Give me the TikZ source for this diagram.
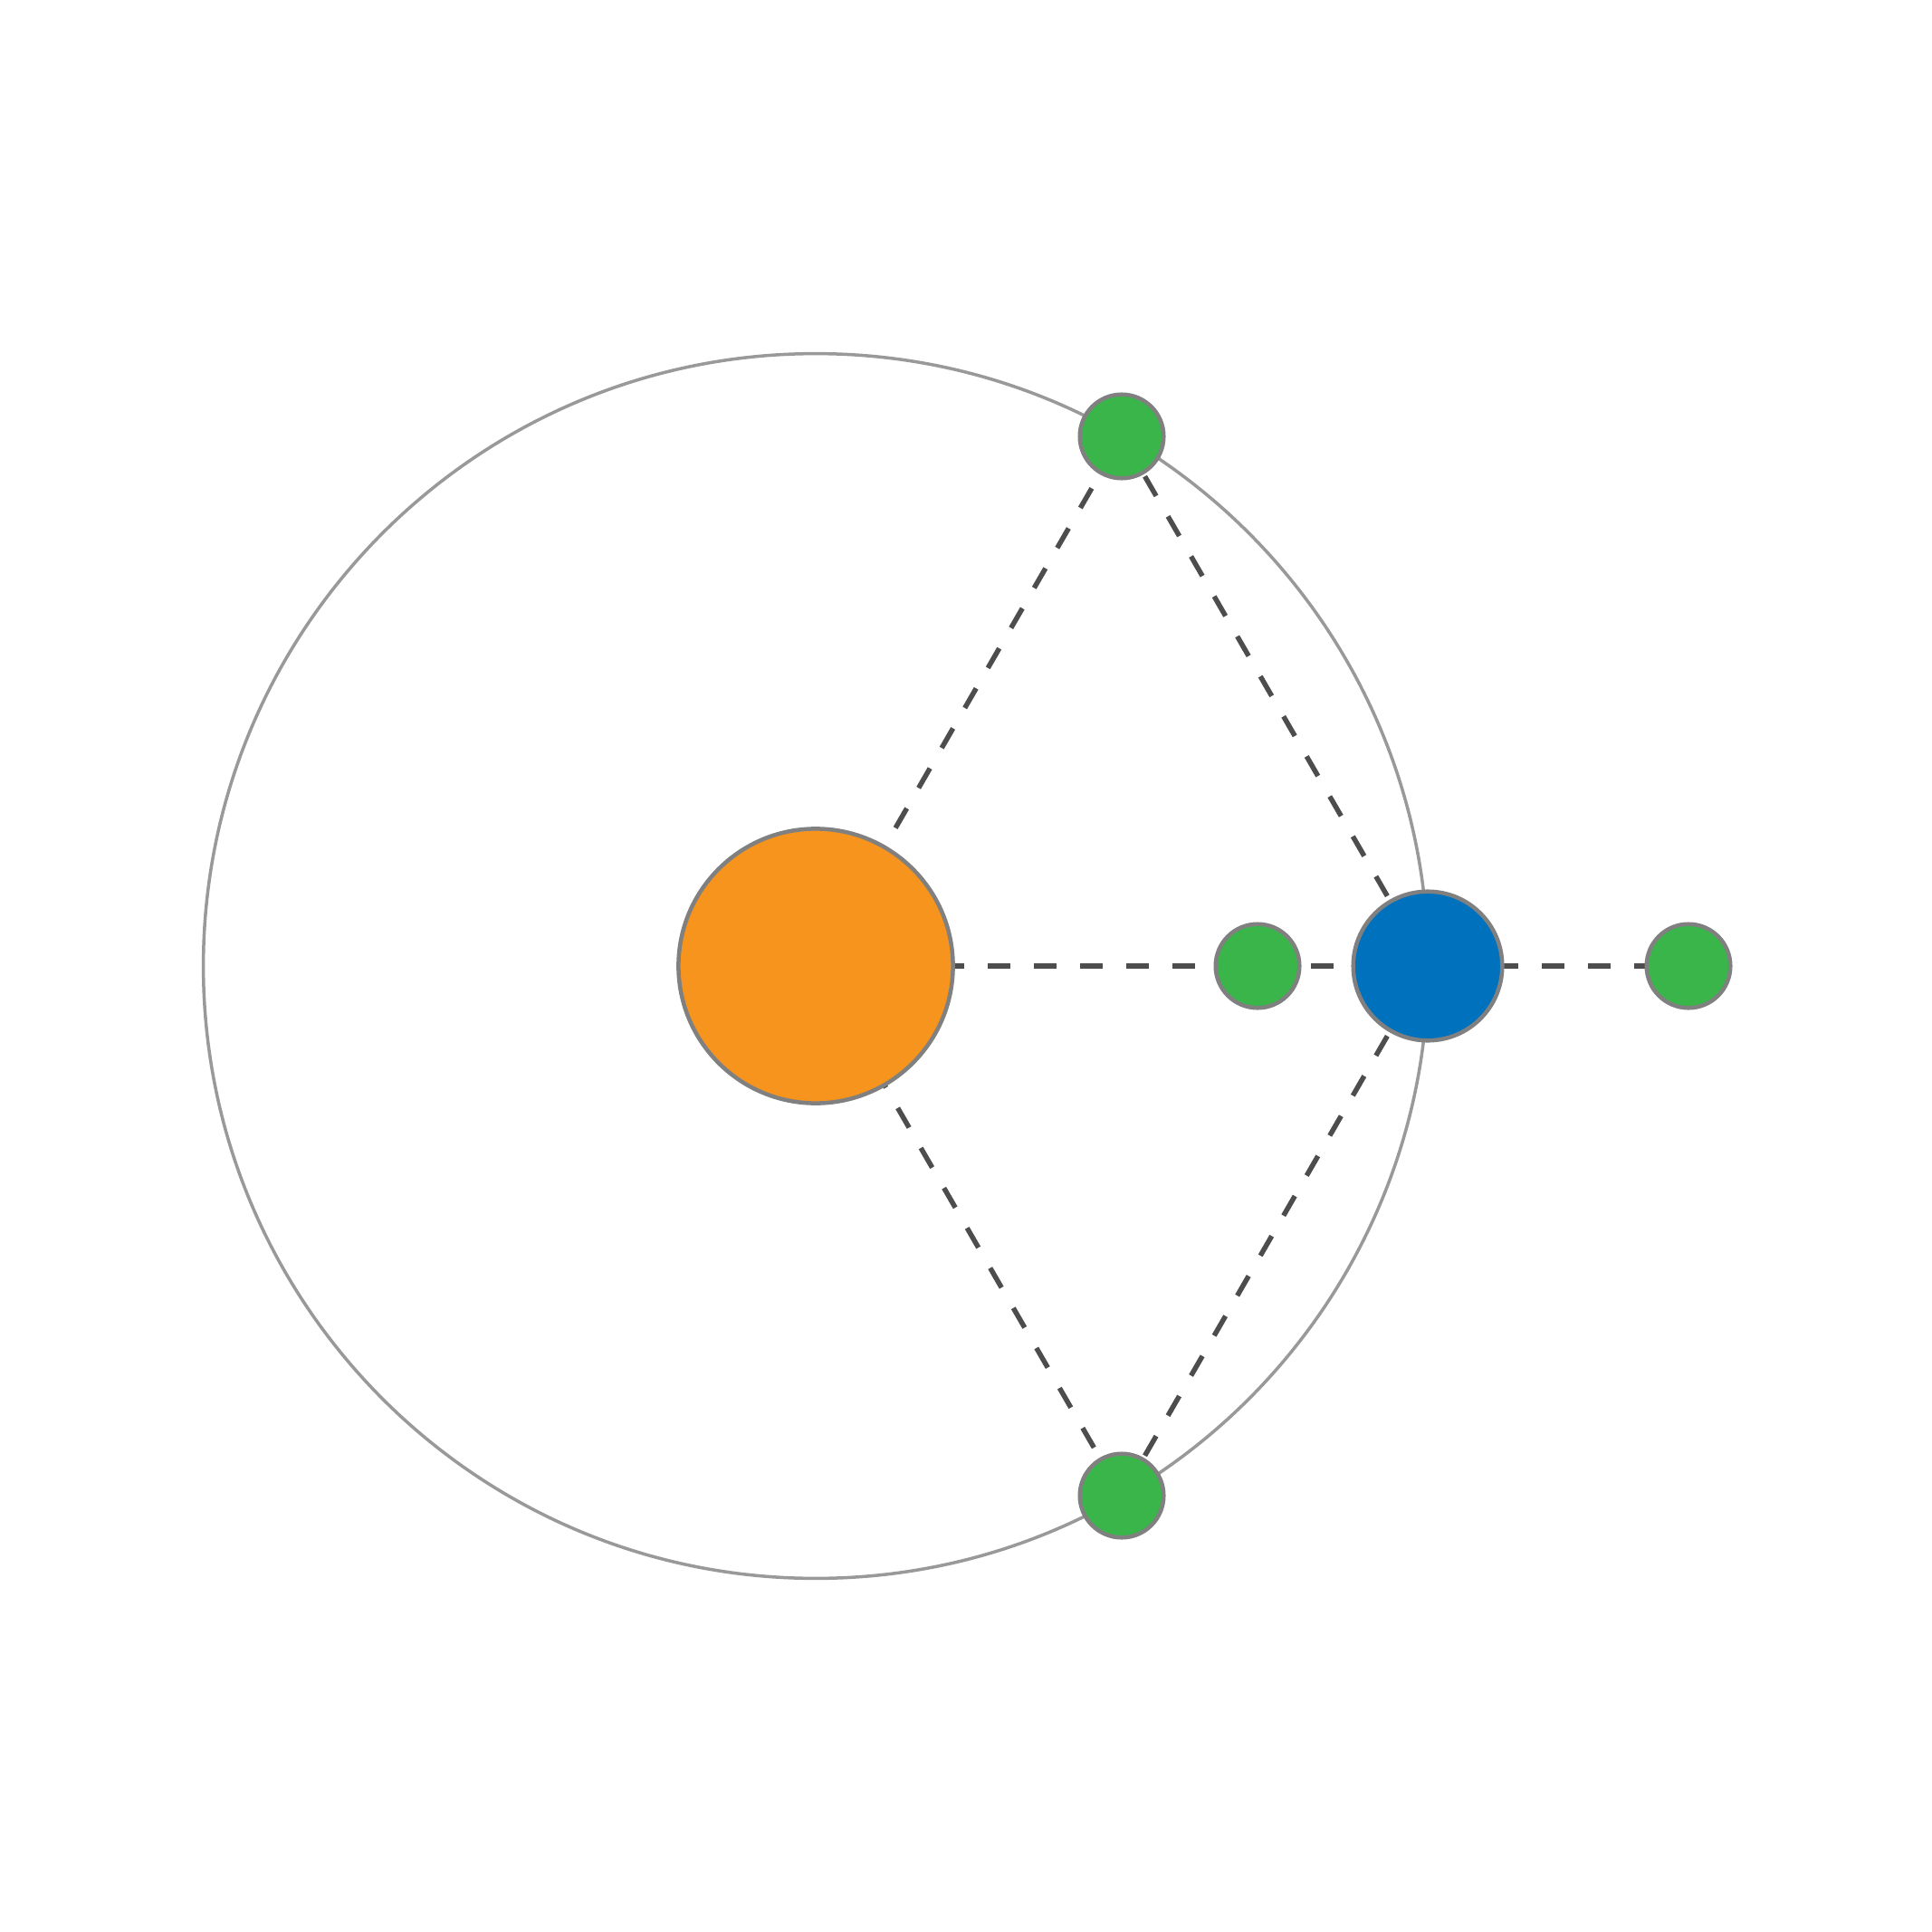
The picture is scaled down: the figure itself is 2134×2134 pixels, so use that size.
\documentclass[tikz,border=0pt]{standalone}
\usetikzlibrary{backgrounds}
\definecolor{sunfill}{HTML}{F7941E}
\definecolor{earthfill}{HTML}{0071BC}
\definecolor{lptfill}{HTML}{39B54A}
\definecolor{rimgray}{HTML}{808080}
\definecolor{orbitgray}{HTML}{999999}
\definecolor{dashgray}{HTML}{4D4D4D}
\begin{document}
\begin{tikzpicture}[x=0.01cm,y=-0.01cm,
  body/.style={circle,draw=rimgray,line width=0.045cm,inner sep=0pt},
  sunbody/.style={body,fill=sunfill,minimum size=3.03cm},
  earthbody/.style={body,fill=earthfill,minimum size=1.645cm},
  lpoint/.style={body,fill=lptfill,minimum size=0.925cm},
  orbitline/.style={draw=orbitgray,line width=0.035cm},
  link/.style={draw=dashgray,line width=0.055cm,dash pattern=on 0.25cm off 0.26cm}]
\useasboundingbox (0,0) rectangle (2134,2134);
\node[sunbody] (sun) at (901,1067) {};
\node[earthbody] (earth) at (1577,1067) {};
\node[lpoint] (L1) at (1389,1067) {};
\node[lpoint] (L2) at (1865,1067) {};
\node[lpoint] (L4) at (1239,482) {};
\node[lpoint] (L5) at (1239,1652) {};
\begin{pgfonlayer}{background}
\draw[orbitline] (sun.center) circle[radius=6.76cm];
\draw[link,dash phase=0.143cm] (sun.center) -- (L1.center) -- (earth.center) -- (L2.center);
\draw[link,dash phase=0.28cm] (sun.center) -- (L4.center);
\draw[link,dash phase=0.23cm] (sun.center) -- (L5.center);
\draw[link] (L4.center) -- (earth.center);
\draw[link] (L5.center) -- (earth.center);
\end{pgfonlayer}
\end{tikzpicture}
\end{document}
